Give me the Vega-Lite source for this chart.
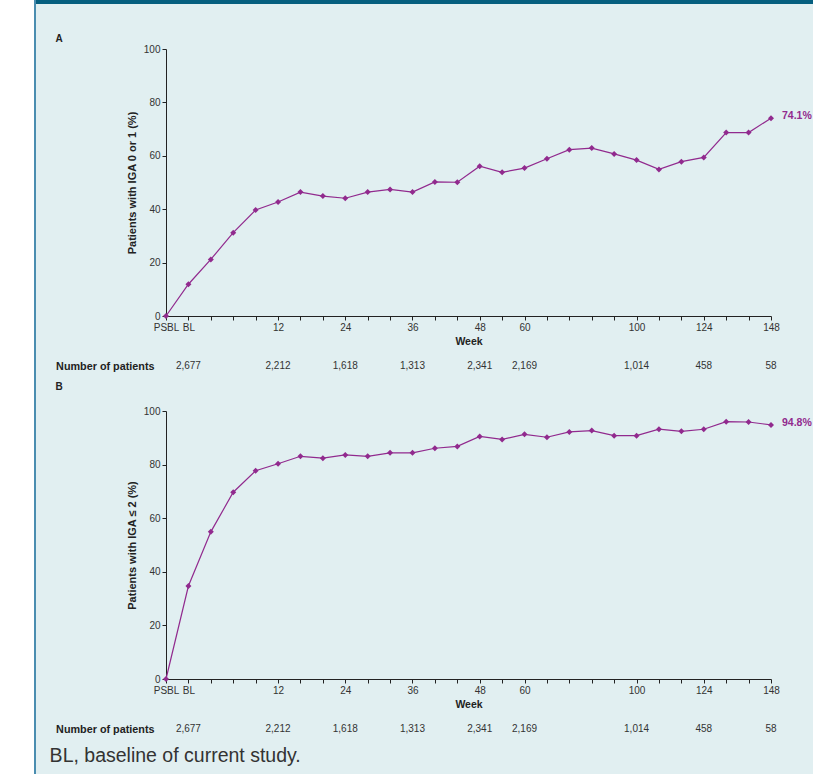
{
  "$schema": "https://vega.github.io/schema/vega-lite/v6.json",
  "background": "#e1eff1",
  "padding": 0,
  "spacing": 0,
  "datasets": {
    "a": [
      {"i": 0, "pct": 0}, {"i": 1, "pct": 11.9}, {"i": 2, "pct": 21.2}, {"i": 3, "pct": 31.2},
      {"i": 4, "pct": 39.7}, {"i": 5, "pct": 42.7}, {"i": 6, "pct": 46.4}, {"i": 7, "pct": 44.9},
      {"i": 8, "pct": 44.1}, {"i": 9, "pct": 46.4}, {"i": 10, "pct": 47.4}, {"i": 11, "pct": 46.4},
      {"i": 12, "pct": 50.2}, {"i": 13, "pct": 50.1}, {"i": 14, "pct": 56.1}, {"i": 15, "pct": 53.8},
      {"i": 16, "pct": 55.4}, {"i": 17, "pct": 58.9}, {"i": 18, "pct": 62.3}, {"i": 19, "pct": 62.9},
      {"i": 20, "pct": 60.7}, {"i": 21, "pct": 58.4}, {"i": 22, "pct": 54.9}, {"i": 23, "pct": 57.8},
      {"i": 24, "pct": 59.4}, {"i": 25, "pct": 68.7}, {"i": 26, "pct": 68.7}, {"i": 27, "pct": 74.1, "label": "74.1%"}
    ],
    "b": [
      {"i": 0, "pct": 0}, {"i": 1, "pct": 34.7}, {"i": 2, "pct": 54.9}, {"i": 3, "pct": 69.7},
      {"i": 4, "pct": 77.7}, {"i": 5, "pct": 80.3}, {"i": 6, "pct": 83.1}, {"i": 7, "pct": 82.4},
      {"i": 8, "pct": 83.6}, {"i": 9, "pct": 83.1}, {"i": 10, "pct": 84.4}, {"i": 11, "pct": 84.4},
      {"i": 12, "pct": 86.1}, {"i": 13, "pct": 86.8}, {"i": 14, "pct": 90.5}, {"i": 15, "pct": 89.4},
      {"i": 16, "pct": 91.3}, {"i": 17, "pct": 90.2}, {"i": 18, "pct": 92.2}, {"i": 19, "pct": 92.7},
      {"i": 20, "pct": 90.8}, {"i": 21, "pct": 90.8}, {"i": 22, "pct": 93.2}, {"i": 23, "pct": 92.4},
      {"i": 24, "pct": 93.2}, {"i": 25, "pct": 96.0}, {"i": 26, "pct": 95.9}, {"i": 27, "pct": 94.8, "label": "94.8%"}
    ],
    "n": [
      {"i": 1, "n": "2,677"}, {"i": 5, "n": "2,212"}, {"i": 8, "n": "1,618"}, {"i": 11, "n": "1,313"},
      {"i": 14, "n": "2,341"}, {"i": 16, "n": "2,169"}, {"i": 21, "n": "1,014"}, {"i": 24, "n": "458"},
      {"i": 27, "n": "58"}
    ]
  },
  "hconcat": [
    {
      "width": 34, "height": 774,
      "view": {"fill": "#ffffff", "stroke": null},
      "data": {"values": []},
      "mark": "point",
      "encoding": {}
    },
    {
      "width": 2, "height": 774,
      "view": {"fill": "#4a8db0", "stroke": null},
      "data": {"values": []},
      "mark": "point",
      "encoding": {}
    },
    {
      "spacing": 30,
      "vconcat": [
        {
          "width": 777, "height": 4,
          "view": {"fill": "#055f7f", "stroke": null},
          "data": {"values": []},
          "mark": "point",
          "encoding": {}
        },
        {
          "spacing": 12,
          "hconcat": [
            {
              "width": 1, "height": 1,
              "data": {"values": []},
              "mark": "point",
              "encoding": {}
            },
            {
              "spacing": 9,
              "title": {"text": "BL, baseline of current study.", "orient": "bottom", "anchor": "start", "frame": "bounds", "fontSize": 19.5, "fontWeight": "normal", "color": "#333333", "offset": 11, "dx": -6},
              "vconcat": [
                {
                  "spacing": 12,
                  "title": {"text": "A", "anchor": "start", "frame": "bounds", "fontSize": 10, "fontWeight": "bold", "color": "#222222", "offset": 0},
                  "vconcat": [
                    {
                      "width": 605, "height": 267,
                      "data": {"name": "a"},
                      "encoding": {
                        "x": {"field": "i", "type": "quantitative", "scale": {"domain": [0, 27], "nice": false, "zero": false},
                          "axis": {"values": [0,1,2,3,4,5,6,7,8,9,10,11,12,13,14,15,16,17,18,19,20,21,22,23,24,25,26,27],
                            "labelExpr": "datum.value == 0 ? 'PSBL' : datum.value == 1 ? 'BL' : datum.value == 5 ? '12' : datum.value == 8 ? '24' : datum.value == 11 ? '36' : datum.value == 14 ? '48' : datum.value == 16 ? '60' : datum.value == 21 ? '100' : datum.value == 24 ? '124' : datum.value == 27 ? '148' : ''",
                            "title": "Week"}},
                        "y": {"field": "pct", "type": "quantitative", "scale": {"domain": [0, 100], "nice": false},
                          "axis": {"values": [0, 20, 40, 60, 80, 100], "title": "Patients with IGA 0 or 1 (%)"}}
                      },
                      "layer": [
                        {"mark": {"type": "line", "color": "#912a8e", "strokeWidth": 1.2}},
                        {"mark": {"type": "point", "shape": "diamond", "filled": true, "size": 36, "color": "#912a8e", "opacity": 1}},
                        {"transform": [{"filter": "isValid(datum.label)"}],
                          "mark": {"type": "text", "align": "left", "baseline": "middle", "dx": 11, "dy": -2, "fontWeight": "bold", "fontSize": 10.5, "color": "#912a8e"},
                          "encoding": {"text": {"field": "label"}}}
                      ]
                    },
                    {
                      "width": 605, "height": 14,
                      "data": {"name": "n"},
                      "mark": {"type": "text", "fontSize": 10, "color": "#333333"},
                      "encoding": {
                        "x": {"field": "i", "type": "quantitative", "scale": {"domain": [0, 27], "nice": false, "zero": false}, "axis": null},
                        "y": {"datum": "Number of patients", "type": "nominal",
                          "axis": {"title": null, "ticks": false, "domain": false, "labelFontWeight": "bold", "labelFontSize": 10.8, "labelPadding": 12, "labelColor": "#222222"}},
                        "text": {"field": "n"}
                      }
                    }
                  ]
                },
                {
                  "spacing": 12,
                  "title": {"text": "B", "anchor": "start", "frame": "bounds", "fontSize": 10, "fontWeight": "bold", "color": "#222222", "offset": 14},
                  "vconcat": [
                    {
                      "width": 605, "height": 268,
                      "data": {"name": "b"},
                      "encoding": {
                        "x": {"field": "i", "type": "quantitative", "scale": {"domain": [0, 27], "nice": false, "zero": false},
                          "axis": {"values": [0,1,2,3,4,5,6,7,8,9,10,11,12,13,14,15,16,17,18,19,20,21,22,23,24,25,26,27],
                            "labelExpr": "datum.value == 0 ? 'PSBL' : datum.value == 1 ? 'BL' : datum.value == 5 ? '12' : datum.value == 8 ? '24' : datum.value == 11 ? '36' : datum.value == 14 ? '48' : datum.value == 16 ? '60' : datum.value == 21 ? '100' : datum.value == 24 ? '124' : datum.value == 27 ? '148' : ''",
                            "title": "Week"}},
                        "y": {"field": "pct", "type": "quantitative", "scale": {"domain": [0, 100], "nice": false},
                          "axis": {"values": [0, 20, 40, 60, 80, 100], "title": "Patients with IGA ≤ 2 (%)"}}
                      },
                      "layer": [
                        {"mark": {"type": "line", "color": "#912a8e", "strokeWidth": 1.2}},
                        {"mark": {"type": "point", "shape": "diamond", "filled": true, "size": 36, "color": "#912a8e", "opacity": 1}},
                        {"transform": [{"filter": "isValid(datum.label)"}],
                          "mark": {"type": "text", "align": "left", "baseline": "middle", "dx": 11, "dy": -2, "fontWeight": "bold", "fontSize": 10.5, "color": "#912a8e"},
                          "encoding": {"text": {"field": "label"}}}
                      ]
                    },
                    {
                      "width": 605, "height": 14,
                      "data": {"name": "n"},
                      "mark": {"type": "text", "fontSize": 10, "color": "#333333"},
                      "encoding": {
                        "x": {"field": "i", "type": "quantitative", "scale": {"domain": [0, 27], "nice": false, "zero": false}, "axis": null},
                        "y": {"datum": "Number of patients", "type": "nominal",
                          "axis": {"title": null, "ticks": false, "domain": false, "labelFontWeight": "bold", "labelFontSize": 10.8, "labelPadding": 12, "labelColor": "#222222"}},
                        "text": {"field": "n"}
                      }
                    }
                  ]
                }
              ]
            }
          ]
        }
      ]
    }
  ],
  "config": {
    "font": "Liberation Sans",
    "view": {"stroke": null},
    "axis": {
      "grid": false,
      "tickSize": 4,
      "labelPadding": 2,
      "labelFontSize": 10,
      "titleFontSize": 11,
      "titleFontWeight": "bold",
      "domainColor": "#222222",
      "tickColor": "#222222",
      "labelColor": "#333333",
      "titleColor": "#222222",
      "labelFlush": false,
      "labelOverlap": false,
      "labelBound": false
    },
    "axisX": {"titlePadding": 4, "titleFontSize": 10.5},
    "axisY": {"titlePadding": 6}
  }
}
